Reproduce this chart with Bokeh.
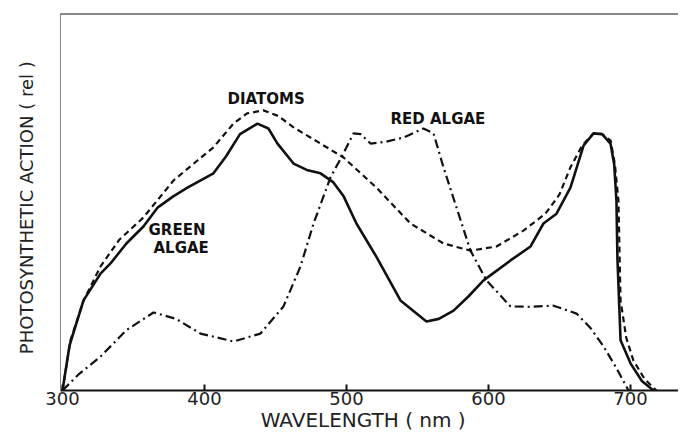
from bokeh.plotting import figure
from bokeh.models import Range1d, FixedTicker, Label, Span
from bokeh.embed import file_html
from bokeh.resources import INLINE

# Wavelength (nm) and relative photosynthetic action
green_nm = [300, 305, 314.8, 326.8, 333.8, 345, 357, 366.9, 378, 388, 406.3, 415, 425, 437.3, 445,
            451.4, 462.7, 472, 481.7, 490.8, 498, 507, 521, 538, 556.3, 565, 575.4, 586, 596.5,
            615.5, 629.6, 638.7, 647.9, 657.7, 662, 667, 673.9, 680, 685.9, 688.5, 690.1, 690.8,
            693, 700, 708, 716.2]
green_val = [0.0, 0.12, 0.239, 0.310, 0.337, 0.39, 0.435, 0.485, 0.515, 0.538, 0.576, 0.62, 0.68, 0.708, 0.695,
             0.655, 0.602, 0.585, 0.576, 0.552, 0.515, 0.443, 0.355, 0.239, 0.183, 0.19, 0.212, 0.25, 0.292,
             0.345, 0.382, 0.443, 0.469, 0.538, 0.59, 0.65, 0.682, 0.68, 0.655, 0.6, 0.504, 0.35,
             0.133, 0.072, 0.025, 0.0]

diatom_nm = [300, 305.6, 315, 326.8, 340, 357, 378.2, 395, 406.3, 420.4, 430, 441.5, 452, 462.7,
             481.7, 497.9, 521.1, 545.1, 568.3, 587.3, 605.6, 624.6, 640.1, 650, 657.7, 666, 673.9,
             680, 686, 689, 691.5, 693, 697, 702, 710, 718.3]
diatom_val = [0.0, 0.133, 0.24, 0.329, 0.40, 0.459, 0.557, 0.61, 0.645, 0.708, 0.735, 0.743, 0.728, 0.698,
              0.655, 0.618, 0.538, 0.443, 0.390, 0.371, 0.382, 0.424, 0.469, 0.52, 0.592, 0.65, 0.682,
              0.68, 0.663, 0.6, 0.504, 0.239, 0.14, 0.08, 0.03, 0.0]

red_nm = [300, 312, 326.8, 345, 364.1, 380, 397.2, 420.4, 439.4, 455.6, 467.6, 476.8, 488.7, 497.9,
          504.9, 510, 516.9, 528, 540.1, 554.2, 561.3, 568.3, 577.5, 587.3, 598.6, 615.5, 630, 645.8,
          662, 672, 681, 690, 698.6]
red_val = [0.0, 0.045, 0.090, 0.16, 0.207, 0.19, 0.151, 0.130, 0.151, 0.223, 0.329, 0.443, 0.565, 0.629,
           0.682, 0.68, 0.655, 0.66, 0.671, 0.695, 0.682, 0.592, 0.485, 0.371, 0.292, 0.223, 0.222, 0.225,
           0.204, 0.165, 0.117, 0.06, 0.0]

x_ticks = [300, 400, 500, 600, 700]

FONT = "DejaVu Sans"

p = figure(width=678, height=438, output_backend="svg", toolbar_location=None,
           x_range=Range1d(298.6, 733.8), y_range=Range1d(0, 1),
           min_border_left=60, min_border_right=0, min_border_top=13, min_border_bottom=48)
p.outline_line_color = None
p.grid.visible = False
p.background_fill_color = "white"

p.xaxis.ticker = FixedTicker(ticks=x_ticks)
p.xaxis.major_tick_in = 6
p.xaxis.major_tick_out = 0
p.xaxis.minor_tick_line_color = None
p.xaxis.axis_line_width = 2
p.xaxis.axis_line_color = "#111111"
p.xaxis.major_tick_line_color = "#111111"
p.xaxis.major_tick_line_width = 2
p.xaxis.major_label_text_font = FONT
p.xaxis.major_label_text_font_size = "18px"
p.xaxis.major_label_text_color = "#222222"
p.xaxis.major_label_standoff = 1
p.xaxis.axis_label = "WAVELENGTH   ( nm )"
p.xaxis.axis_label_text_font = FONT
p.xaxis.axis_label_text_font_size = "20px"
p.xaxis.axis_label_text_font_style = "normal"
p.xaxis.axis_label_text_color = "#222222"
p.xaxis.axis_label_standoff = 0

p.yaxis.ticker = FixedTicker(ticks=[])
p.yaxis.minor_tick_line_color = None
p.yaxis.axis_line_color = "#888888"
p.yaxis.axis_line_width = 1
p.yaxis.axis_label = "PHOTOSYNTHETIC  ACTION  ( rel )"
p.yaxis.axis_label_text_font = FONT
p.yaxis.axis_label_text_font_size = "18px"
p.yaxis.axis_label_text_font_style = "normal"
p.yaxis.axis_label_text_color = "#222222"
p.yaxis.axis_label_standoff = 24

p.add_layout(Span(location=1, dimension="width", line_color="#111111", line_width=2))

p.line(red_nm, red_val, line_color="#111111", line_width=2.2, line_dash="9 4 2 4")
p.line(diatom_nm, diatom_val, line_color="#111111", line_width=2.2, line_dash="6 4")
p.line(green_nm, green_val, line_color="#111111", line_width=2.6)

lab = dict(text_font=FONT, text_font_size="15px", text_font_style="bold", text_color="#111111",
           text_baseline="middle", text_align="left")
p.add_layout(Label(x=416.2, y=0.772, text="DIATOMS", **lab))
p.add_layout(Label(x=531, y=0.719, text="RED  ALGAE", **lab))
p.add_layout(Label(x=360.6, y=0.427, text="GREEN", **lab))
p.add_layout(Label(x=364.1, y=0.379, text="ALGAE", **lab))

open("out.html", "w").write(file_html(p, INLINE))
